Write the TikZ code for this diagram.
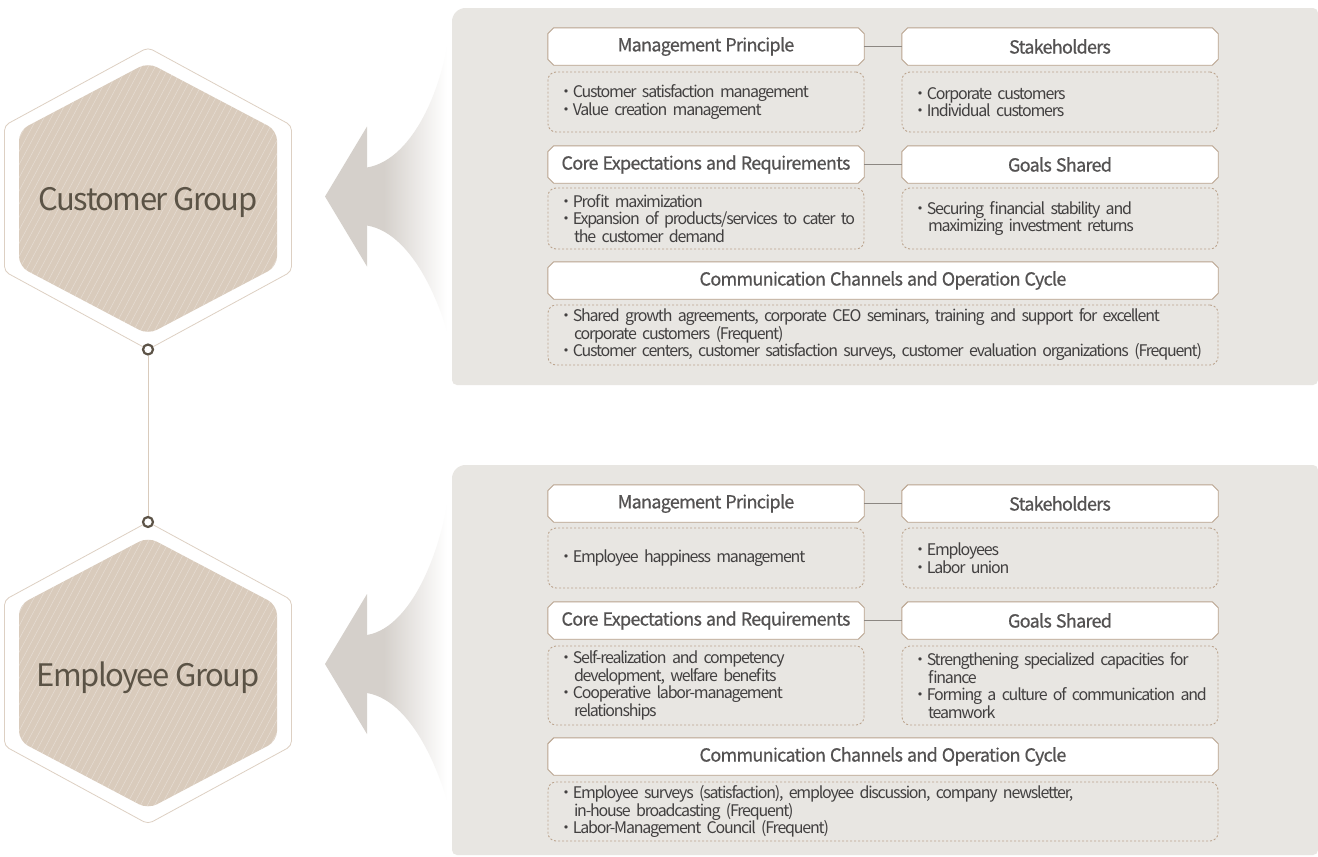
\documentclass[tikz,border=0pt]{standalone}
\usepackage{fontspec}
\setmainfont{Noto Sans CJK KR}
\newfontfamily\bodyfont[LetterSpace=-7.5]{Noto Sans CJK KR}
\newfontfamily\headfont[LetterSpace=-4,FakeBold=0.6]{Noto Sans CJK KR}
\newfontfamily\groupfont[LetterSpace=-5]{Noto Sans CJK KR}
% text styles with tight word spacing
\newcommand\bodystyle{\bodyfont\fontsize{16}{17.5}\selectfont\spaceskip 3pt plus 1pt\relax}
\newcommand\headstyle{\headfont\fontsize{18}{20}\selectfont\spaceskip 4pt plus 1pt\relax}
\newcommand\groupstyle{\groupfont\fontsize{31}{34}\selectfont\spaceskip 6pt plus 1pt\relax}

\definecolor{panel}{HTML}{E8E6E2}
\definecolor{arrowgray}{HTML}{D5D0CB}
\definecolor{hdrline}{HTML}{B9A38E}
\definecolor{dashline}{HTML}{BBA48E}
\definecolor{hdrtext}{HTML}{545252}
\definecolor{bodytext}{HTML}{424040}
\definecolor{hexfill}{HTML}{D9CBBC}
\definecolor{hexline}{HTML}{DDD0C3}
\definecolor{hextext}{HTML}{5B5346}
\definecolor{ringline}{HTML}{5C5347}
\definecolor{linkline}{HTML}{8C8782}

% gray arrow shaft fading into white towards the panel
\pgfdeclarehorizontalshading{ribbon}{100bp}{color(0bp)=(arrowgray); color(34bp)=(arrowgray); color(68bp)=(white); color(100bp)=(white)}

\pgfdeclarelayer{back}
\pgfdeclarelayer{frames}
\pgfsetlayers{back,frames,main}

\newcommand\bl{\phantom{・}}
\newcommand\bi[1]{\mbox{・#1}}
\newcommand\bc[1]{\mbox{\bl#1}}
% chamfered white frame around a header node
\newcommand\hdrframe[1]{%
  \draw[hdrline, line width=0.9pt, fill=white]
    ([xshift=6pt]#1.north west) -- ([xshift=-6pt]#1.north east)
    -- ([yshift=-6pt]#1.north east) -- ([yshift=6pt]#1.south east)
    -- ([xshift=-6pt]#1.south east) -- ([xshift=6pt]#1.south west)
    -- ([yshift=6pt]#1.south west) -- ([yshift=-6pt]#1.north west) -- cycle;}

\begin{document}
\begin{tikzpicture}[x=1pt,y=-1pt,
  hdr/.style={rectangle, minimum width=316pt, minimum height=37pt, inner sep=0pt,
    font=\headstyle, text=hdrtext},
  widehdr/.style={hdr, minimum width=670pt},
  body/.style={draw=dashline, dash pattern=on 2pt off 2pt, line width=0.9pt,
    rounded corners=8pt, text width=296pt, align=left, inner xsep=10pt,
    inner ysep=0pt, font=\bodystyle, text=bodytext},
  widebody/.style={body, text width=650pt},
  link/.style={draw=linkline, line width=1pt},
  ring/.style={circle, draw=ringline, line width=2.2pt, fill=white,
    minimum size=10pt, inner sep=0pt},
  grouplabel/.style={font=\groupstyle, text=hextext},
  hatch/.style={white, opacity=0.35, line width=0.5pt}
]
\useasboundingbox (0,0) rectangle (1318,857);

\begin{pgfonlayer}{back}
\fill[white] (0,0) rectangle (1318,857);

% ---- arrows pointing from the panels to the groups ----
\foreach \cy/\top/\bot in {196.5/8/385, 664/465/855}{
  \shade[shading=ribbon]
    (367,\cy-29) .. controls (415,\cy-37) and (448,\top+72) .. (452,\top)
    -- (460,\top) -- (460,\bot)
    .. controls (448,\bot-72) and (415,\cy+37) .. (367,\cy+29) -- cycle;
  \fill[arrowgray] (325,\cy) -- (367,\cy-70) -- (367,\cy+70) -- cycle;
}

% ---- panels ----
\fill[panel, rounded corners=5pt] (452,16) -- (460,8) -- (1318,8) -- (1318,385) -- (452,385) -- cycle;
\fill[panel, rounded corners=5pt] (452,473) -- (460,465) -- (1318,465) -- (1318,855) -- (452,855) -- cycle;

% ---- group hexagons ----
\foreach \cy in {198.5, 673}{
  \begin{scope}[shift={(148,\cy)}]
    \draw[hexline, fill=white, line width=0.8pt, rounded corners=5pt]
      (0,-151) -- (143.5,-73) -- (143.5,73) -- (0,151) -- (-143.5,73) -- (-143.5,-73) -- cycle;
    \fill[hexfill, rounded corners=10pt]
      (0,-136) -- (129,-68) -- (129,68) -- (0,136) -- (-129,68) -- (-129,-68) -- cycle;
    \begin{scope}
      \clip[rounded corners=10pt]
        (0,-136) -- (129,-68) -- (129,68) -- (0,136) -- (-129,68) -- (-129,-68) -- cycle;
      \foreach \k in {-45,...,45}
        \draw[hatch] (\k*7-80,150) -- (\k*7+80,-150);
    \end{scope}
  \end{scope}
}
\end{pgfonlayer}

\node[grouplabel] (cg) at (148,202) {Customer Group};
\node[grouplabel] (eg) at (148,678) {Employee Group};

% ---- rings and the line joining the groups ----
\node[ring] (r1) at (148,349.5) {};
\node[ring] (r2) at (148,522) {};
\begin{pgfonlayer}{frames}
\draw[hexfill, line width=1pt] (r1) -- (r2);
\end{pgfonlayer}

% ---- customer group panel ----
\node[hdr] (mp1) at (706,46.5) {Management Principle};
\node[hdr] (sh1) at (1060,46.5) {Stakeholders};
\node[body, minimum height=60pt] (bmp1) at (706,102)
  {\bi{Customer satisfaction management}\\\bi{Value creation management}};
\node[body, minimum height=60pt] (bsh1) at (1060,102)
  {\bi{Corporate customers}\\\bi{Individual customers}};

\node[hdr] (ce1) at (706,164.5) {Core Expectations and Requirements};
\node[hdr] (gs1) at (1060,164.5) {Goals Shared};
\node[body, minimum height=61pt] (bce1) at (706,218.5)
  {\bi{Profit maximization}\\\bi{Expansion of products/services to cater to}\\\bc{the customer demand}};
\node[body, minimum height=61pt] (bgs1) at (1060,218.5)
  {\bi{Securing financial stability and}\\\bc{maximizing investment returns}};

\node[widehdr] (cc1) at (883,280.5) {Communication Channels and Operation Cycle};
\node[widebody, minimum height=60pt] (bcc1) at (883,335)
  {\bi{Shared growth agreements, corporate CEO seminars, training and support for excellent}\\\bc{corporate customers (Frequent)}\\\bi{Customer centers, customer satisfaction surveys, customer evaluation organizations (Frequent)}};

% ---- employee group panel ----
\node[hdr] (mp2) at (706,503.5) {Management Principle};
\node[hdr] (sh2) at (1060,503.5) {Stakeholders};
\node[body, minimum height=60pt] (bmp2) at (706,558)
  {\bi{Employee happiness management}};
\node[body, minimum height=60pt] (bsh2) at (1060,558)
  {\bi{Employees}\\\bi{Labor union}};

\node[hdr] (ce2) at (706,620.5) {Core Expectations and Requirements};
\node[hdr] (gs2) at (1060,620.5) {Goals Shared};
\node[body, minimum height=79pt] (bce2) at (706,685.5)
  {\bi{Self-realization and competency}\\\bc{development, welfare benefits}\\\bi{Cooperative labor-management}\\\bc{relationships}};
\node[body, minimum height=79pt] (bgs2) at (1060,685.5)
  {\bi{Strengthening specialized capacities for}\\\bc{finance}\\\bi{Forming a culture of communication and}\\\bc{teamwork}};

\node[widehdr] (cc2) at (883,756.5) {Communication Channels and Operation Cycle};
\node[widebody, minimum height=59pt] (bcc2) at (883,811.5)
  {\bi{Employee surveys (satisfaction), employee discussion, company newsletter,}\\\bc{in-house broadcasting (Frequent)}\\\bi{Labor-Management Council (Frequent)}};

% ---- header frames and the links between paired headers ----
\begin{pgfonlayer}{frames}
\foreach \h in {mp1,sh1,ce1,gs1,cc1,mp2,sh2,ce2,gs2,cc2}{\hdrframe{\h}}
\draw[link] (mp1) -- (sh1);
\draw[link] (ce1) -- (gs1);
\draw[link] (mp2) -- (sh2);
\draw[link] (ce2) -- (gs2);
\end{pgfonlayer}
\end{tikzpicture}
\end{document}
